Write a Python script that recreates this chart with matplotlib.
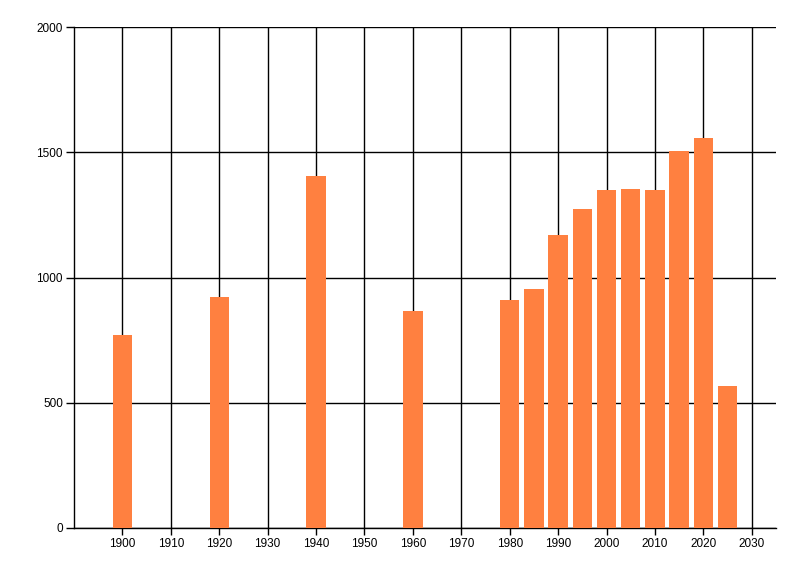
import matplotlib
matplotlib.use("Agg")
import matplotlib.pyplot as plt

years = [1900, 1920, 1940, 1960, 1980, 1985, 1990, 1995, 2000, 2005, 2010, 2015, 2020, 2025]
values = [772, 924, 1404, 865, 909, 953, 1169, 1273, 1349, 1353, 1349, 1505, 1557, 566]
x_ticks = list(range(1900, 2031, 10))
y_ticks = [0, 500, 1000, 1500, 2000]

plt.rcParams['font.family'] = ['Liberation Sans', 'DejaVu Sans']

fig = plt.figure(figsize=(8, 5.76), dpi=100)
ax = fig.add_axes([74/800, 1-528/576, (776-74)/800, (528-27)/576])

ax.bar(years, values, width=4, color="#FF8040", zorder=3)

ax.set_xlim(1890, 2035)
ax.set_ylim(0, 2000)
ax.set_xticks(x_ticks)
ax.set_yticks(y_ticks)
ax.tick_params(axis='both', labelsize=8.5, length=6, width=1, colors='black', direction='out', pad=2)
ax.tick_params(axis='x', length=5)
ax.grid(True, color='black', linewidth=1, zorder=0)
ax.set_axisbelow(True)
for s in ['top', 'right']:
    ax.spines[s].set_visible(False)
for s in ['left', 'bottom']:
    ax.spines[s].set_linewidth(1)
    ax.spines[s].set_color('black')

fig.savefig("out.png", dpi=100)
